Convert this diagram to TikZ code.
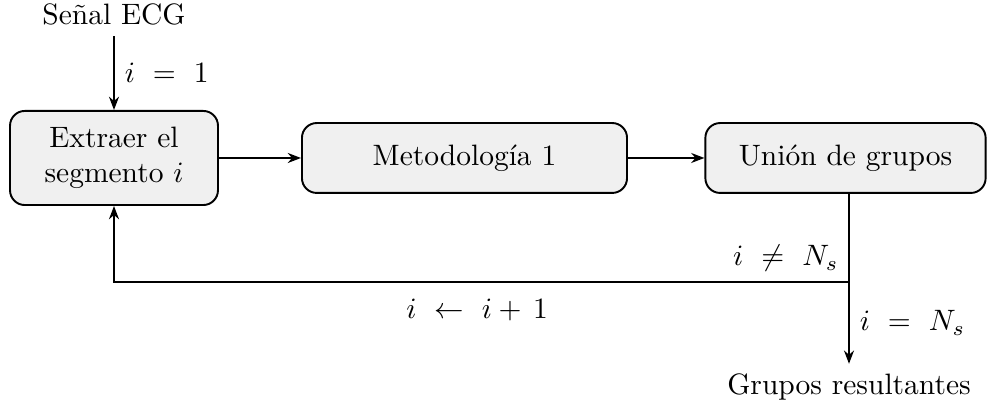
\documentclass[tikz,border=0pt]{standalone}
\usetikzlibrary{arrows.meta}
\begin{document}
\begin{tikzpicture}[x=0.339pt,y=-0.339pt,
  blk/.style={draw, line width=0.65pt, rounded corners=5pt, fill=black!6, align=center, inner sep=0pt},
  conn/.style={line width=0.65pt, -{Stealth[length=4.5pt,width=3.4pt]}},
  lne/.style={line width=0.65pt}]
\useasboundingbox (0,0) rectangle (987,418);
\node[anchor=base, inner sep=3.33pt] (ecg) at (114,25) {Señal ECG};
\node[blk, minimum width=70.5pt, minimum height=31.9pt] (b1) at (114,158) {Extraer el\\segmento $i$};
\node[blk, minimum width=110.2pt, minimum height=23.7pt] (b2) at (464.5,158) {Metodología 1};
\node[blk, minimum width=95.0pt, minimum height=23.7pt] (b3) at (845.5,158) {Unión de grupos};
\node[anchor=base, inner sep=3.33pt] (out) at (849,395) {Grupos resultantes};
\coordinate (j) at (849,282);
\draw[conn] (ecg) -- node[right] (l1) {$i\ =\ 1$} (b1);
\draw[conn] (b1) -- (b2);
\draw[conn] (b2) -- (b3);
\draw[lne] (b3.south -| j) -- (j);
\draw[conn] (j) -- node[right] (l2) {$i\ =\ N_s$} (out.north);
\draw[conn] (j) -| node[pos=0.253, below=2.2pt] (l3) {$i\ \leftarrow\ i +\, 1$} (b1.south);
\node[anchor=south east] (l4) at (j) {$i\ \neq\ N_s$};
\end{tikzpicture}
\end{document}
